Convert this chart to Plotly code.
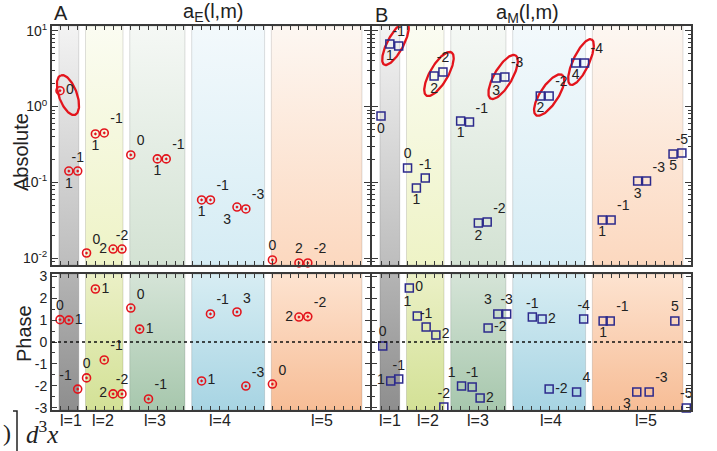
import numpy as np
import plotly.graph_objects as go

# ---------------- data ----------------
# slot = position of the (l, m) entry along the horizontal axis (0..34)
# a_E : absolute values
aE_abs_l = [1, 1, 1, 2, 2, 2, 2, 2, 3, 3, 3, 4, 4, 4, 4, 5, 5, 5]
aE_abs_m = [0, 1, -1, 0, 1, -1, 2, -2, 0, 1, -1, 1, -1, 3, -3, 0, 2, -2]
aE_abs_slot = [0, 1, 2, 3, 4, 5, 6, 7, 8, 11, 12, 16, 17, 20, 21, 24, 27, 28]
aE_abs_val = [1.62, 0.141, 0.141, 0.0117, 0.435, 0.449, 0.0132, 0.0132,
              0.230, 0.204, 0.204, 0.0586, 0.0586, 0.0473, 0.0446,
              0.00947, 0.00865, 0.00865]

# a_E : phase
aE_ph_l = [1, 1, 1, 2, 2, 2, 2, 2, 3, 3, 3, 4, 4, 4, 4, 5, 5, 5]
aE_ph_m = [0, 1, -1, 0, 1, -1, 2, -2, 0, 1, -1, 1, -1, 3, -3, 0, 2, -2]
aE_ph_slot = [0, 1, 2, 3, 4, 5, 6, 7, 8, 9, 10, 16, 17, 20, 21, 24, 27, 28]
aE_ph_val = [1.02, 1.00, -2.15, -1.64, 2.42, -0.82, -2.37, -2.37,
             1.55, 0.59, -2.60, -1.78, 1.28, 1.37, -2.01, -1.92, 1.14, 1.16]

# a_M : absolute values
aM_abs_l = [1, 1, 1, 2, 2, 2, 2, 2, 3, 3, 3, 3, 3, 3, 4, 4, 4, 4, 5, 5, 5, 5, 5, 5]
aM_abs_m = [0, 1, -1, 0, 1, -1, 2, -2, 1, -1, 2, -2, 3, -3, 2, -2, 4, -4,
            1, -1, 3, -3, 5, -5]
aM_abs_slot = [0, 1, 2, 3, 4, 5, 6, 7, 9, 10, 11, 12, 13, 14, 18, 19, 22, 23,
               25, 26, 29, 30, 33, 34]
aM_abs_val = [0.751, 6.70, 6.30, 0.155, 0.0844, 0.114, 2.53, 2.86,
              0.646, 0.626, 0.0291, 0.0300, 2.38, 2.46,
              1.38, 1.38, 3.76, 3.76,
              0.0319, 0.0319, 0.104, 0.104, 0.237, 0.244]

# a_M : phase
aM_ph_l = [1, 1, 1, 2, 2, 2, 2, 2, 3, 3, 3, 3, 3, 3, 4, 4, 4, 4, 4, 5, 5, 5, 5, 5, 5]
aM_ph_m = [0, 1, -1, 0, 1, -1, 2, -2, 1, -1, 2, -2, 3, -3, -1, 2, -2, 4, -4,
           1, -1, 3, -3, 5, -5]
aM_ph_slot = [0.2, 1.1, 2.0, 3.2, 4.1, 5.1, 6.2, 7.1, 9.1, 10.3, 11.2, 12.1, 13.2, 14.2,
              17.1, 18.2, 19.0, 22.1, 22.9, 25.1, 25.9, 28.9, 30.3, 33.2, 34.5]
aM_ph_val = [-0.18, -1.78, -1.69, 2.47, 1.19, 0.68, 0.32, -2.97,
             -2.01, -2.05, -2.56, 0.64, 1.28, 1.28,
             1.14, 1.05, -2.15, -2.28, 1.05,
             0.96, 0.96, -2.28, -2.28, 0.96, -3.01]

# l groups: first and last slot of each l band
l_values = [1, 2, 3, 4, 5]
band_first = [0, 3, 8, 15, 24]
band_last = [2, 7, 14, 23, 34]

# highlighted dominant multipoles (ellipses): centre slot and centre value
ellA_slot = [0.9]
ellA_val = [1.42]
ellB_slot = [1.64, 6.55, 13.8, 19.0, 22.6]
ellB_val = [6.79, 2.69, 2.46, 1.42, 3.87]

# tick labels
log_tickvals = [0.01, 0.1, 1, 10]
log_ticktext = ["10<sup>-2</sup>", "10<sup>-1</sup>", "10<sup>0</sup>", "10<sup>1</sup>"]
ph_tickvals = [-3, -2, -1, 0, 1, 2, 3]
ph_ticktext = ["-3", "-2", "-1", "0", "1", "2", "3"]

# ---------------- layout geometry / styles ----------------
W, H = 717, 451
PX_SLOT = 8.85
A_L, A_R, B_L, B_R = 52, 370, 372, 691
A_S0, B_S0 = 60, 381
TOP_T, TOP_B, BOT_T, BOT_B = 26, 265, 274, 410
LOG_RANGE = [-2.090, 1.063]
PH_RANGE = [-3.105, 3.105]
PX_DEC = (TOP_B - TOP_T) / (LOG_RANGE[1] - LOG_RANGE[0])

# label placement (styling)
lab_A_pos = [1.24, 4.86, 10.7, 18.1, 29.6]
lab_B_pos = [1.02, 5.31, 10.96, 19.2, 29.94]

aE_abs_tpos = ['middle right', 'bottom center', 'top center',
               'top right', 'bottom center', 'top right', 'middle left', 'top center',
               'top right', 'bottom center', 'top right',
               'bottom center', 'top right', 'bottom left', 'top right',
               'top center', 'top center', 'top right']
aE_ph_tpos = ['top center', 'middle right', 'top left',
              'top center', 'middle right', 'top right', 'middle left', 'top center',
              'top right', 'middle right', 'top right',
              'middle right', 'top right', 'top right', 'top right',
              'top right', 'middle left', 'top right']
aM_abs_tpos = ['bottom center', 'bottom center', 'top center',
               'top center', 'bottom center', 'top center', 'bottom center', 'top center',
               'bottom center', 'top right', 'bottom center', 'top right', 'bottom center', 'top right',
               'bottom center', 'top right', 'bottom center', 'top right',
               'bottom center', 'top right', 'bottom center', 'top right', 'bottom center', 'top center']
aM_ph_tpos = ['top center', 'middle left', 'top center',
              'middle right', 'top left', 'top center', 'middle right', 'top center',
              'top left', 'top center', 'middle right', 'middle right', 'top left', 'top center',
              'top center', 'middle right', 'middle right', 'top right', 'top center',
              'bottom center', 'top right', 'bottom left', 'top right', 'top center', 'top center']

ellA_geom = [(21, 9, -20)]
ellB_geom = [(24, 8, 28), (25, 9, 30), (25, 9, 30), (24, 9, 33), (25, 8, 25)]

top_col_hi = ['#f3f3f3', '#fbfcf2', '#f5f8f5', '#f3f9fc', '#fdf7f2']
top_col_lo = ['#bdbdbd', '#eef3c6', '#d3e2d3', '#d5ecf4', '#fcd8bf']
bot_col_hi = ['#b4b4b4', '#ebf0c6', '#d5e4d7', '#d7edf3', '#fde3d0']
bot_col_lo = ['#8e8e8e', '#d3e196', '#a7c7ad', '#a7d4e3', '#f7bd96']

FONT = "Liberation Sans"
TXT = '#222222'
FRAME = '#3a3a3a'
RED = '#e3141c'
NAVY = '#2c2a8c'

fig = go.Figure()


def add_bands(xa, ya, ylo, yhi, hi, lo):
    for i in range(len(l_values)):
        x0 = band_first[i] - 0.12
        x1 = band_last[i] + 0.12
        fig.add_trace(go.Scatter(
            x=[x0, x1, x1, x0, x0], y=[ylo, ylo, yhi, yhi, ylo],
            mode='lines', fill='toself',
            line=dict(color='rgba(0,0,0,0.16)', width=0.8),
            fillgradient=dict(type='vertical', colorscale=[[0, lo[i]], [1, hi[i]]]),
            hoverinfo='skip', showlegend=False, xaxis=xa, yaxis=ya))


add_bands('x', 'y', 10 ** LOG_RANGE[0], 10 ** LOG_RANGE[1], top_col_hi, top_col_lo)
add_bands('x2', 'y2', 10 ** LOG_RANGE[0], 10 ** LOG_RANGE[1], top_col_hi, top_col_lo)
add_bands('x3', 'y3', PH_RANGE[0], PH_RANGE[1], bot_col_hi, bot_col_lo)
add_bands('x4', 'y4', PH_RANGE[0], PH_RANGE[1], bot_col_hi, bot_col_lo)


def ellipse(cs, cv, geom):
    a, b, tilt = geom
    th = np.deg2rad(tilt)
    t = np.linspace(0, 2 * np.pi, 120)
    ux, uy = np.sin(th), -np.cos(th)
    vx, vy = np.cos(th), np.sin(th)
    dx = a * np.cos(t) * ux + b * np.sin(t) * vx
    dy = a * np.cos(t) * uy + b * np.sin(t) * vy
    xs = cs + dx / PX_SLOT
    ys = 10 ** (np.log10(cv) - dy / PX_DEC)
    return xs, ys


for cs, cv, g in zip(ellA_slot, ellA_val, ellA_geom):
    xs, ys = ellipse(cs, cv, g)
    fig.add_trace(go.Scatter(x=xs, y=ys, mode='lines', line=dict(color=RED, width=2.3),
                             hoverinfo='skip', showlegend=False, cliponaxis=False,
                             xaxis='x', yaxis='y'))
for cs, cv, g in zip(ellB_slot, ellB_val, ellB_geom):
    xs, ys = ellipse(cs, cv, g)
    fig.add_trace(go.Scatter(x=xs, y=ys, mode='lines', line=dict(color=RED, width=2.3),
                             hoverinfo='skip', showlegend=False, cliponaxis=False,
                             xaxis='x2', yaxis='y2'))

mkE = dict(symbol='circle-open-dot', size=8, color=RED, line=dict(width=1.6, color=RED))
mkM = dict(symbol='square-open', size=8, color=NAVY, line=dict(width=1.5, color=NAVY))
tf = dict(family=FONT, size=14, color=TXT)


def pts(x, y, m, tpos, mk, xa, ya):
    fig.add_trace(go.Scatter(x=x, y=y, mode='markers+text', text=[str(v) for v in m],
                             textposition=tpos, marker=mk, textfont=tf, cliponaxis=False,
                             hoverinfo='skip', showlegend=False, xaxis=xa, yaxis=ya))


pts(aE_abs_slot, aE_abs_val, aE_abs_m, aE_abs_tpos, mkE, 'x', 'y')
pts(aM_abs_slot, aM_abs_val, aM_abs_m, aM_abs_tpos, mkM, 'x2', 'y2')
pts(aE_ph_slot, aE_ph_val, aE_ph_m, aE_ph_tpos, mkE, 'x3', 'y3')
pts(aM_ph_slot, aM_ph_val, aM_ph_m, aM_ph_tpos, mkM, 'x4', 'y4')


def xr(s0, left, right):
    return [(left - s0) / PX_SLOT, (right - s0) / PX_SLOT]


def dx_(l, r):
    return [l / W, r / W]


def dy_(t, b):
    return [1 - b / H, 1 - t / H]


base_x = dict(showline=True, linecolor=FRAME, linewidth=2, mirror='ticks', ticks='inside',
              ticklen=4, tickwidth=1, tickcolor=FRAME, tick0=0, dtick=1, automargin=False,
              showticklabels=False, showgrid=False, zeroline=False, fixedrange=True)
minor_log = [d * 10.0 ** e for e in (-3, -2, -1, 0, 1) for d in range(2, 10)]
minor_log = [v for v in minor_log if LOG_RANGE[0] < np.log10(v) < LOG_RANGE[1]]
base_ylog = dict(type='log', range=LOG_RANGE, tickmode='array', tickvals=log_tickvals,
                 ticktext=log_ticktext, showline=True, linecolor=FRAME, linewidth=2,
                 mirror='ticks', ticks='inside', ticklen=6, tickwidth=1, tickcolor=FRAME,
                 minor=dict(tickmode='array', tickvals=minor_log, ticks='inside', ticklen=3,
                            tickcolor=FRAME, showgrid=False), automargin=False,
                 showgrid=False, zeroline=False, tickfont=dict(family=FONT, size=14, color=TXT))
minor_ph = [v / 2 for v in range(-5, 6, 2)]
base_yph = dict(range=PH_RANGE, tickmode='array', tickvals=ph_tickvals, ticktext=ph_ticktext,
                showline=True, linecolor=FRAME, linewidth=2, mirror='ticks', ticks='inside',
                ticklen=5, tickwidth=1, tickcolor=FRAME, automargin=False,
                minor=dict(tickmode='array', tickvals=minor_ph, ticks='inside', ticklen=3,
                           tickcolor=FRAME, showgrid=False),
                showgrid=False, zeroline=False, tickfont=dict(family=FONT, size=14, color=TXT))

fig.update_layout(
    width=W, height=H, margin=dict(l=0, r=0, t=0, b=0, autoexpand=False),
    paper_bgcolor='white', plot_bgcolor='white', showlegend=False,
    xaxis=dict(base_x, domain=dx_(A_L, A_R), range=xr(A_S0, A_L, A_R), anchor='y'),
    yaxis=dict(base_ylog, domain=dy_(TOP_T, TOP_B), anchor='x'),
    xaxis2=dict(base_x, domain=dx_(B_L, B_R), range=xr(B_S0, B_L, B_R), anchor='y2'),
    yaxis2=dict(base_ylog, domain=dy_(TOP_T, TOP_B), anchor='x2', showticklabels=False),
    xaxis3=dict(base_x, domain=dx_(A_L, A_R), range=xr(A_S0, A_L, A_R), anchor='y3'),
    yaxis3=dict(base_yph, domain=dy_(BOT_T, BOT_B), anchor='x3'),
    xaxis4=dict(base_x, domain=dx_(B_L, B_R), range=xr(B_S0, B_L, B_R), anchor='y4'),
    yaxis4=dict(base_yph, domain=dy_(BOT_T, BOT_B), anchor='x4', showticklabels=False),
)

# dotted zero lines in the phase panels
for xr_, yr_ in (('x3 domain', 'y3'), ('x4 domain', 'y4')):
    fig.add_shape(type='line', xref=xr_, yref=yr_, x0=0, x1=1, y0=0, y1=0,
                  line=dict(color='#111111', width=1.3, dash='3px,3px'), layer='above')

ann = []


def add_text(txt, px, py, size, xanchor='center', yanchor='middle', angle=0, family=FONT):
    ann.append(dict(text=txt, x=px / W, y=1 - py / H, xref='paper', yref='paper',
                    xanchor=xanchor, yanchor=yanchor, showarrow=False, textangle=angle,
                    font=dict(family=family, size=size, color=TXT)))


add_text('A', 61, 13, 20)
add_text('B', 382, 15, 20)
add_text('a<sub>E</sub>(l,m)', 213, 13, 20)
add_text('a<sub>M</sub>(l,m)', 527, 14, 20)
add_text('Absolute', 21, 152, 20, angle=-90)
add_text('Phase', 24, 333, 20, angle=-90)

for lv, p in zip(l_values, lab_A_pos):
    ann.append(dict(text=f'l={lv}', x=p, xref='x3', y=1 - 420 / H, yref='paper',
                    xanchor='center', yanchor='middle',
                    showarrow=False, font=dict(family=FONT, size=16, color=TXT)))
for lv, p in zip(l_values, lab_B_pos):
    ann.append(dict(text=f'l={lv}', x=p, xref='x4', y=1 - 420 / H, yref='paper',
                    xanchor='center', yanchor='middle',
                    showarrow=False, font=dict(family=FONT, size=16, color=TXT)))

# fragment of a formula cut at the lower-left corner
add_text(')', 1, 433, 24, xanchor='left', family='Liberation Serif')
fig.add_shape(type='path', xref='paper', yref='paper', layer='above',
              path=f'M {13 / W} {1 - 411 / H} L {17 / W} {1 - 411 / H} L {17 / W} 0',
              line=dict(color=TXT, width=1.5))
add_text('<i>d</i><sup>3</sup><i>x</i>', 24, 432, 25, xanchor='left', family='Liberation Serif')

fig.update_layout(annotations=ann)
fig.write_html('out.html', config={'displayModeBar': False, 'staticPlot': True},
               post_script="document.body.style.margin='0px';document.body.style.overflow='hidden';")
